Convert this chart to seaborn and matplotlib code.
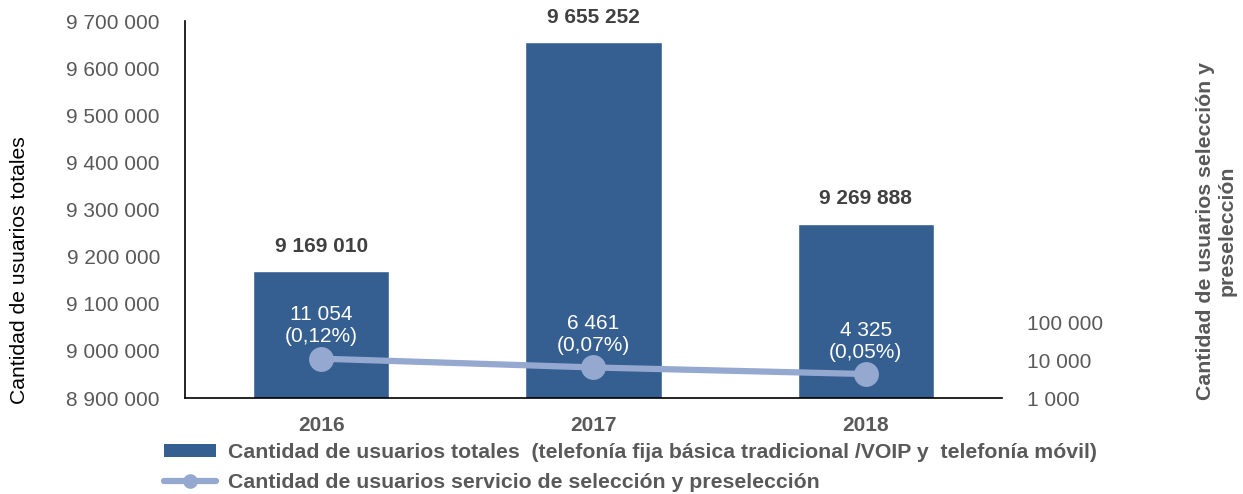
import matplotlib
matplotlib.use("Agg")
import matplotlib.pyplot as plt
import seaborn as sns
from matplotlib.ticker import FuncFormatter, FixedLocator
from matplotlib.patches import Patch
from matplotlib.lines import Line2D

# datos
anios = ["2016", "2017", "2018"]
usuarios_totales = [9169010, 9655252, 9269888]
usuarios_seleccion = [11054, 6461, 4325]
porcentajes = ["0,12%", "0,07%", "0,05%"]

color_barra = "#365F91"
color_linea = "#95A8D0"
gris = "#595959"

sns.set_theme(style="white")
plt.rcParams["font.family"] = ["Liberation Sans", "DejaVu Sans"]


def miles(v, pos=None):
    return f"{v:,.0f}".replace(",", " ")


fig = plt.figure(figsize=(12.43, 4.94), dpi=100)
ax = fig.add_axes([185 / 1243, 1 - 398 / 494, (1002 - 185) / 1243, (398 - 21) / 494])

sns.barplot(x=anios, y=usuarios_totales, color=color_barra, width=0.5,
            saturation=1, ax=ax)
ax.set_ylim(8900000, 9700000)
ax.set_xlim(-0.5, 2.5)
ax.yaxis.set_major_locator(FixedLocator(range(8900000, 9700001, 100000)))
ax.yaxis.set_major_formatter(FuncFormatter(miles))
ax.tick_params(axis="y", length=0, pad=18, labelsize=15, labelcolor=gris)
ax.tick_params(axis="x", length=0, pad=13, labelsize=15, labelcolor=gris)
for t in ax.get_xticklabels():
    t.set_fontweight("bold")
ax.set_xlabel("")
ax.set_ylabel("")
for s in ["top", "right"]:
    ax.spines[s].set_visible(False)
for s in ["left", "bottom"]:
    ax.spines[s].set_color("black")
    ax.spines[s].set_linewidth(1.2)

for i, v in enumerate(usuarios_totales):
    ax.annotate(miles(v), (i, v), xytext=(0, 18), textcoords="offset points",
                ha="center", va="center", fontsize=15, fontweight="bold",
                color="#404040")

# eje secundario (logaritmico)
ax2 = ax.twinx()
ax2.set_yscale("log")
sns.pointplot(x=anios, y=usuarios_seleccion, color=color_linea, markers="o",
              linestyles="-", markersize=14.5, linewidth=4.5, ax=ax2)
ax2.set_ylim(1e3, 1e13)
ax2.set_xlim(-0.5, 2.5)
ax2.yaxis.set_major_locator(FixedLocator([1e3, 1e4, 1e5]))
ax2.yaxis.set_minor_locator(FixedLocator([]))
ax2.yaxis.set_major_formatter(FuncFormatter(miles))
ax2.tick_params(axis="y", length=0, pad=18, labelsize=15, labelcolor=gris)
ax2.set_ylabel("")
for s in ax2.spines.values():
    s.set_visible(False)

for i, (v, p) in enumerate(zip(usuarios_seleccion, porcentajes)):
    ax2.annotate(f"{miles(v)}\n({p})", (i, v), xytext=(0, 9),
                 textcoords="offset points", ha="center", va="bottom",
                 fontsize=15, color="white", linespacing=1.2)

fig.text(20 / 1243, 1 - 270 / 494, "Cantidad de usuarios totales", rotation=90,
         ha="center", va="center", fontsize=15.2, color="black")
fig.text(1216 / 1243, 1 - 231 / 494, "Cantidad de usuarios selección y\npreselección",
         rotation=90, ha="center", va="center", fontsize=15.3, fontweight="bold",
         color=gris, multialignment="center", linespacing=1.15)

handles = [
    Patch(facecolor=color_barra, edgecolor="none"),
    Line2D([0], [0], color=color_linea, linewidth=4.5, marker="o", markersize=9.5),
]
labels = [
    "Cantidad de usuarios totales  (telefonía fija básica tradicional /VOIP y  telefonía móvil)",
    "Cantidad de usuarios servicio de selección y preselección",
]
leg = fig.legend(handles, labels, loc="upper left",
                 bbox_to_anchor=(164 / 1243, 1 - 443 / 494), frameon=False,
                 prop={"size": 15.3, "weight": "bold"}, handlelength=2.45,
                 handleheight=0.5, handletextpad=0.55, labelspacing=0.5,
                 borderpad=0.0, borderaxespad=0.0)
for t in leg.get_texts():
    t.set_color(gris)

fig.savefig("out.png", dpi=100)
